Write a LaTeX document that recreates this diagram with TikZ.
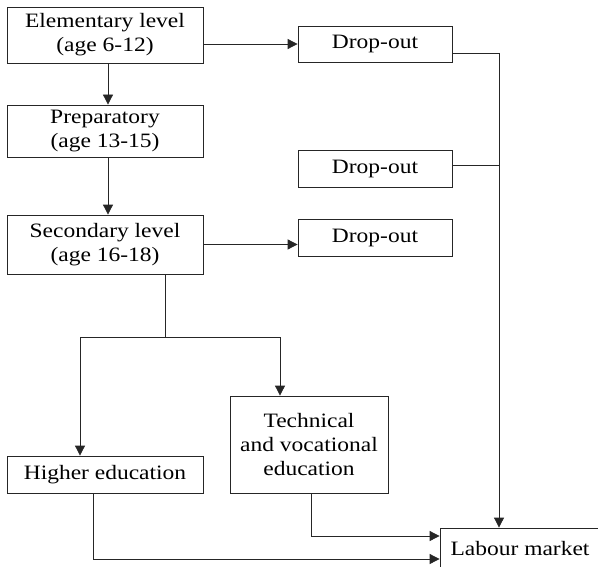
\documentclass[tikz,border=0pt]{standalone}
\usepackage{fontspec}
\setmainfont{Liberation Serif}[FakeStretch=1.15]
\usetikzlibrary{arrows.meta}
\begin{document}
\begin{tikzpicture}[x=1bp,y=-1bp,
  box/.style={draw=black!85,line width=0.8bp,inner sep=0pt,align=center,
    font=\fontsize{20.5}{24}\selectfont},
  conn/.style={draw=black!85,line width=0.8bp},
  arr/.style={conn,-{Triangle[length=10bp,width=10bp]}}]
\useasboundingbox (0,0) rectangle (598,567);
\node[box,minimum width=196bp,minimum height=56bp] (elem) at (105,35) {Elementary level\\(age 6-12)};
\node[box,minimum width=196bp,minimum height=52bp] (prep) at (105,131) {Preparatory\\(age 13-15)};
\node[box,minimum width=196bp,minimum height=59bp] (sec) at (105,244.5) {Secondary level\\(age 16-18)};
\node[box,minimum width=154bp,minimum height=36bp] (drop1) at (375,44) {Drop-out};
\node[box,minimum width=154bp,minimum height=37bp] (drop2) at (375,168.5) {Drop-out};
\node[box,minimum width=154bp,minimum height=37bp] (drop3) at (375,237.5) {Drop-out};
\node[box,minimum width=196bp,minimum height=37bp] (high) at (105,474.5) {Higher education};
\node[box,minimum width=158bp,minimum height=97bp] (tech) at (309,444.5) {Technical\\and vocational\\education};
\node[box,minimum width=160bp,minimum height=42bp] (lab) at (520,549) {Labour market};
\coordinate (j1) at (499,53);
\coordinate (j2) at (499,165);
\coordinate (s1) at (165,337);
\coordinate (bl) at (80,337);
\coordinate (br) at (280,337);
\coordinate (h1) at (93,559);
\coordinate (t1) at (311,536);
% connectors
\draw[arr] (elem.east |- drop1.west) -- (drop1.west);
\draw[arr] ([xshift=3bp]elem.south) -- ([xshift=3bp]prep.north);
\draw[arr] ([xshift=3bp]prep.south) -- ([xshift=3bp]sec.north);
\draw[arr] (sec.east) -- (sec.east -| drop3.west);
\draw[conn] (drop1.east |- j1) -- (j1);
\draw[conn] (drop2.east |- j2) -- (j2);
\draw[arr] (j1) -- (j1 |- lab.north);
\draw[conn] (sec.south -| s1) -- (s1);
\draw[conn] (bl) -- (br);
\draw[arr] (bl) -- (bl |- high.north);
\draw[arr] (br) -- (br |- tech.north);
\draw[arr] (high.south -| h1) -- (h1) -- (h1 -| lab.west);
\draw[arr] (tech.south -| t1) -- (t1) -- (t1 -| lab.west);
\end{tikzpicture}
\end{document}
